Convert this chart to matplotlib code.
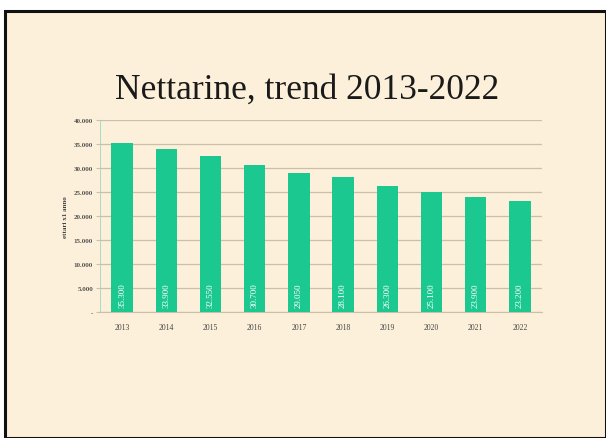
import matplotlib
matplotlib.use("Agg")
import matplotlib.pyplot as plt
from matplotlib.patches import Rectangle
from matplotlib.ticker import FixedLocator

years = ["2013", "2014", "2015", "2016", "2017", "2018", "2019", "2020", "2021", "2022"]
hectares = [35300, 33900, 32550, 30700, 29050, 28100, 26300, 25100, 23900, 23200]
yticks = [0, 5000, 10000, 15000, 20000, 25000, 30000, 35000, 40000]
ytick_labels = ["-", "5.000", "10.000", "15.000", "20.000", "25.000", "30.000", "35.000", "40.000"]
title = "Nettarine, trend 2013-2022"
ylabel = "ettari x1 anno"

bg = "#FCF0DA"
bar_color = "#1BC890"
serif = ["Liberation Serif", "DejaVu Serif"]

fig = plt.figure(figsize=(6.06, 4.39), dpi=100)
fig.patch.set_facecolor("white")
W, H = 606, 439
# slide background with border
fig.patches.append(Rectangle((5 / W, 0), 1 - 5 / W, 1 - 12 / H, transform=fig.transFigure,
                             facecolor=bg, edgecolor="#111111", linewidth=2.2, zorder=-5))

fig.text(307 / W, 1 - 90 / H, title, ha="center", va="center", fontsize=25.5,
         family=serif, color="#1a1a1a", zorder=5)

ax = fig.add_axes([100 / W, 1 - 313 / H, 442 / W, (313 - 121) / H])
ax.set_zorder(2)
ax.set_facecolor(bg)
x = list(range(len(years)))
ax.bar(x, hectares, width=0.48, color=bar_color, zorder=3)
ax.set_xlim(-0.5, len(years) - 0.5)
ax.set_ylim(0, 40000)
ax.yaxis.set_major_locator(FixedLocator(yticks))
ax.set_yticklabels(ytick_labels, family=serif, fontsize=5, color="#555555", fontweight="bold")
ax.set_xticks(x)
ax.set_xticklabels(years, family=serif, fontsize=5.5, color="#444444")
ax.grid(axis="y", color="#CBBFA8", linewidth=0.9, zorder=0)
for s in ["top", "right"]:
    ax.spines[s].set_visible(False)
ax.spines["left"].set_color("#9ad8c0")
ax.spines["left"].set_linewidth(0.6)
ax.spines["bottom"].set_color("#CBBFA8")
ax.tick_params(axis="y", length=3, color="#CBBFA8", pad=2)
ax.tick_params(axis="x", length=0, pad=8)
ax.set_ylabel(ylabel, family=serif, fontsize=5, fontweight="bold", color="#444444", labelpad=4)

for xi, v in zip(x, hectares):
    lbl = f"{v:,}".replace(",", ".")
    ax.text(xi, 1000, lbl, rotation=90, ha="center", va="bottom", fontsize=6.5,
            family=serif, color="white", zorder=4)

fig.savefig("out.png", dpi=100, facecolor=fig.get_facecolor())
